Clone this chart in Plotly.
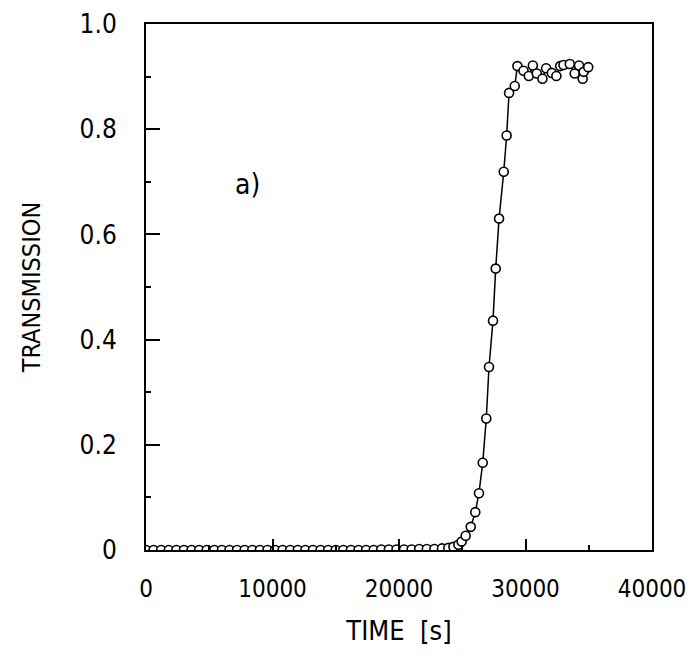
import plotly.graph_objects as go

time_s = [0, 600, 1200, 1800, 2400, 3000, 3600, 4200, 4800, 5400, 6000, 6600, 7200, 7800,
          8400, 9000, 9600, 10200, 10800, 11400, 12000, 12600, 13200, 13800, 14400, 15000,
          15600, 16200, 16800, 17400, 18000, 18600, 19200, 19800, 20400, 21000, 21600, 22200,
          22800, 23400, 23900, 24300, 24700, 24950, 25270, 25670, 26030, 26320, 26620, 26900,
          27115, 27430, 27645, 27910, 28280, 28510, 28700, 29150, 29360, 29840, 30260, 30580,
          30890, 31340, 31630, 32080, 32440, 32740, 33000, 33500, 33890, 34230, 34520, 34600, 34960]
transmission = [0.0, 0.0, 0.0, 0.0, 0.0, 0.0, 0.0, 0.0, 0.0, 0.0, 0.0, 0.0, 0.0, 0.0,
                0.0, 0.0, 0.0, 0.0, 0.0, 0.0, 0.0, 0.0, 0.0, 0.0, 0.0, 0.0,
                0.0, 0.0, 0.0, 0.0, 0.0, 0.001, 0.001, 0.001, 0.001, 0.001, 0.002, 0.002,
                0.002, 0.003, 0.004, 0.006, 0.010, 0.016, 0.027, 0.044, 0.072, 0.108, 0.166, 0.250,
                0.348, 0.436, 0.535, 0.630, 0.719, 0.788, 0.869, 0.882, 0.920, 0.911, 0.901, 0.921,
                0.906, 0.896, 0.916, 0.907, 0.901, 0.920, 0.922, 0.924, 0.906, 0.921, 0.896, 0.909, 0.918]

x_ticks = [0, 10000, 20000, 30000, 40000]
x_tick_labels = ["0", "10000", "20000", "30000", "40000"]
y_ticks = [0, 0.2, 0.4, 0.6, 0.8, 1.0]
y_tick_labels = ["0", "0.2", "0.4", "0.6", "0.8", "1.0"]

FONT = "Liberation Sans Narrow, DejaVu Sans Condensed, Arial Narrow, sans-serif"

fig = go.Figure()
fig.add_trace(go.Scatter(
    x=time_s, y=transmission, mode="lines+markers",
    line=dict(color="black", width=1.5),
    marker=dict(symbol="circle", size=9, color="white", line=dict(color="black", width=1.6)),
    showlegend=False,
))

fig.add_annotation(x=8060, y=0.695, text="a)", showarrow=False,
                   font=dict(family=FONT, size=28, color="black"))

fig.update_xaxes(
    range=[0, 40000], tickmode="array", tickvals=x_ticks, ticktext=x_tick_labels,
    ticks="inside", ticklen=11, tickwidth=1.5, tickcolor="black",
    showline=True, linecolor="black", linewidth=2, mirror=True, automargin=False,
    showgrid=False, zeroline=False, ticklabelstandoff=16, ticklabeloverflow="allow",
    tickfont=dict(family=FONT, size=24, color="black"),
    title=dict(text="TIME  [s]", font=dict(family=FONT, size=27, color="black"), standoff=19),
    minor=dict(ticks="inside", ticklen=5, tickcolor="black", dtick=5000, showgrid=False),
)
fig.update_yaxes(
    range=[0, 1.0], tickmode="array", tickvals=y_ticks, ticktext=y_tick_labels,
    ticks="inside", ticklen=14, tickwidth=1.5, tickcolor="black",
    showline=True, linecolor="black", linewidth=2, mirror=True, automargin=False,
    showgrid=False, zeroline=False, ticklabelstandoff=22, ticklabeloverflow="allow",
    tickfont=dict(family=FONT, size=26, color="black"),
    title=dict(text="TRANSMISSION", font=dict(family=FONT, size=25, color="black"), standoff=32),
    minor=dict(ticks="inside", ticklen=5, tickcolor="black", dtick=0.1, showgrid=False),
)

fig.update_layout(
    width=686, height=649,
    margin=dict(l=138, r=42, t=16, b=107, autoexpand=False),
    paper_bgcolor="white", plot_bgcolor="white",
)

fig.write_html("out.html")
